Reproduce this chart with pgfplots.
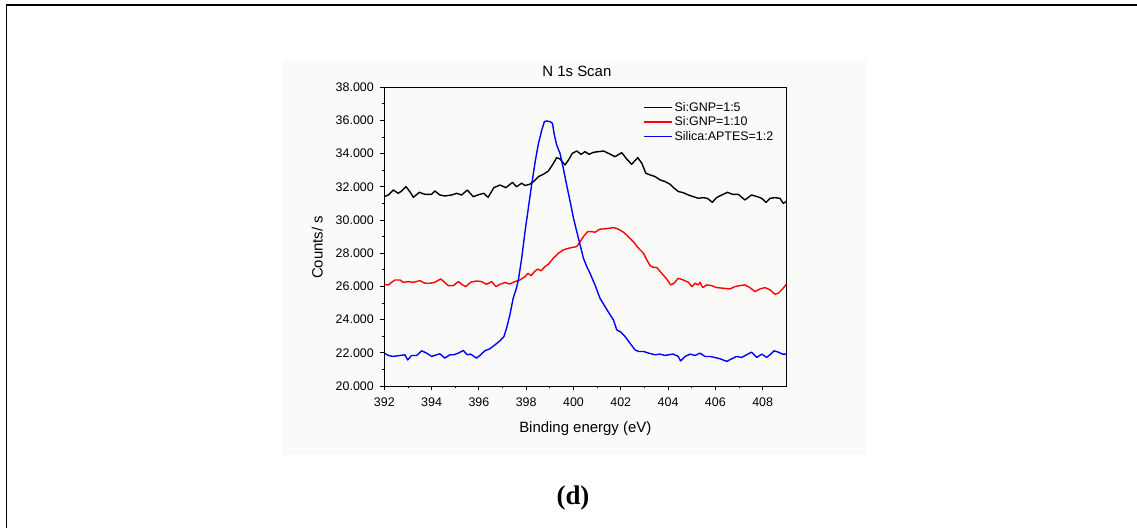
\documentclass[border=0pt]{standalone}
\usepackage{pgfplots}
\pgfplotsset{compat=1.18}
\usepackage{fontspec}
\setmainfont{Liberation Sans}
\newfontfamily\timesfont{Liberation Serif}
\definecolor{bgpanel}{RGB}{250,250,248}
\begin{document}
\begin{tikzpicture}[x=1bp,y=1bp]
\useasboundingbox (0,0) rectangle (1137,528);
\fill[bgpanel] (282,73) rectangle (866,468);
\draw[line width=1.8bp] (6.5,0) -- (6.5,523) -- (1137,523);
\begin{axis}[
  at={(384.3bp,142bp)}, anchor=south west,
  scale only axis, width=402bp, height=298.7bp,
  xmin=392, xmax=409, ymin=20000, ymax=38000,
  xtick={392,394,...,408}, minor x tick num=1,
  ytick={20000,22000,...,38000}, minor y tick num=1,
  yticklabels={20.000,22.000,24.000,26.000,28.000,30.000,32.000,34.000,36.000,38.000},
  xtick pos=left, ytick pos=left,
  tick align=outside, major tick length=4.5bp, minor tick length=2.5bp,
  tick style={black, line width=0.8bp},
  axis line style={line width=0.8bp},
  ticklabel style={font=\fontsize{12.5}{15}\selectfont},
  xticklabel style={yshift=-4bp},
  yticklabel style={xshift=-2.5bp},
  /pgf/number format/assume math mode=true,
  scaled y ticks=false,
  title={N 1s Scan},
  title style={font=\fontsize{15}{18}\selectfont, at={(axis description cs:0.479,1.0155)}, anchor=base},
  xlabel={Binding energy (eV)}, ylabel={Counts/ s},
  label style={font=\fontsize{15}{18}\selectfont},
  xlabel style={at={(axis description cs:0.5,-0.143)}, anchor=center},
  ylabel style={at={(axis description cs:-0.167,0.464)}, anchor=center},
  legend style={at={(axis description cs:0.636,0.964)}, anchor=north west, draw=none, fill=none,
    font=\fontsize{12.5}{15}\selectfont, row sep=0bp},
  legend cell align=left,
]
\addplot[black, line width=1.4bp, line join=round,
  legend image code/.code={\draw[black,line width=1.4bp] (0bp,0bp) -- (28bp,0bp);}] coordinates {
(392.0,31410) (392.17,31510) (392.38,31810) (392.59,31610) (392.73,31750) (392.92,32010)
(393.08,31710) (393.23,31370) (393.48,31670) (393.72,31550) (394.0,31550) (394.14,31750)
(394.35,31510) (394.56,31450) (394.85,31510) (395.06,31610) (395.27,31510) (395.51,31810)
(395.76,31410) (396.04,31550) (396.21,31610) (396.39,31370) (396.63,31950) (396.89,32110)
(397.14,31950) (397.42,32270) (397.59,32010) (397.81,32220) (397.95,32080) (398.16,32160)
(398.31,32320) (398.52,32620) (398.73,32760) (398.94,32960) (399.11,33320) (399.29,33760)
(399.43,33680) (399.64,33320) (399.79,33620) (399.95,34020) (400.14,34160) (400.32,33960)
(400.49,34120) (400.66,33960) (400.84,34080) (401.05,34120) (401.27,34160) (401.48,34020)
(401.76,33820) (402.04,34060) (402.25,33680) (402.46,33360) (402.72,33760) (402.89,33420)
(403.06,32820) (403.24,32720) (403.45,32620) (403.66,32420) (403.87,32320) (404.08,32160)
(404.22,31960) (404.43,31720) (404.64,31650) (404.86,31510) (405.07,31410) (405.28,31310)
(405.49,31350) (405.66,31310) (405.87,31070) (406.05,31350) (406.27,31510) (406.51,31670)
(406.73,31550) (406.97,31550) (407.25,31210) (407.53,31510) (407.77,31410) (407.96,31310)
(408.14,31070) (408.31,31310) (408.52,31350) (408.73,31310) (408.87,31010) (409.0,31110)
};
\addlegendentry{Si:GNP=1:5}
\addplot[red, line width=1.4bp, line join=round,
  legend image code/.code={\draw[red,line width=1.4bp] (0bp,0bp) -- (28bp,0bp);}] coordinates {
(392.0,26130) (392.17,26090) (392.31,26250) (392.45,26390) (392.66,26390) (392.8,26250)
(393.01,26290) (393.23,26250) (393.51,26350) (393.72,26190) (393.93,26190) (394.14,26250)
(394.38,26450) (394.52,26290) (394.7,26050) (394.92,26050) (395.13,26290) (395.31,26090)
(395.45,25990) (395.65,26250) (395.9,26330) (396.11,26290) (396.32,26130) (396.54,26290)
(396.72,25990) (396.89,26130) (397.1,26230) (397.31,26150) (397.52,26290) (397.74,26390)
(397.95,26590) (398.07,26790) (398.21,26650) (398.35,26900) (398.49,27040) (398.63,26940)
(398.8,27200) (398.94,27340) (399.15,27700) (399.36,28000) (399.57,28200) (399.79,28300)
(399.99,28360) (400.14,28400) (400.28,28700) (400.42,29000) (400.6,29300) (400.77,29300)
(400.91,29270) (401.12,29450) (401.33,29470) (401.55,29510) (401.69,29550) (401.9,29450)
(402.11,29270) (402.32,29000) (402.53,28700) (402.75,28300) (402.96,28000) (403.1,27600)
(403.24,27250) (403.38,27150) (403.52,27140) (403.73,26790) (403.94,26450) (404.11,26090)
(404.25,26190) (404.43,26490) (404.64,26390) (404.86,26250) (405.0,25990) (405.14,26190)
(405.28,26090) (405.35,26250) (405.46,25930) (405.63,26090) (405.84,26050) (406.05,25930)
(406.34,25890) (406.62,25850) (406.83,25990) (407.04,26050) (407.25,26090) (407.46,25930)
(407.68,25690) (407.89,25850) (408.1,25930) (408.31,25790) (408.52,25530) (408.66,25590)
(408.87,25890) (409.0,26130)
};
\addlegendentry{Si:GNP=1:10}
\addplot[blue, line width=1.4bp, line join=round,
  legend image code/.code={\draw[blue,line width=1.4bp] (0bp,0bp) -- (28bp,0bp);}] coordinates {
(392.0,21980) (392.17,21840) (392.38,21780) (392.66,21840) (392.87,21880) (392.99,21570)
(393.15,21840) (393.37,21840) (393.58,22120) (393.79,21980) (394.0,21780) (394.21,21880)
(394.35,21940) (394.56,21680) (394.77,21880) (394.94,21880) (395.13,21980) (395.34,22140)
(395.51,21880) (395.65,21920) (395.9,21680) (396.04,21840) (396.25,22120) (396.46,22240)
(396.68,22480) (396.89,22720) (397.06,22980) (397.17,23480) (397.31,24280) (397.45,25290)
(397.59,25900) (397.67,26400) (397.81,27700) (397.95,29300) (398.09,30710) (398.23,32120)
(398.38,33520) (398.52,34630) (398.66,35430) (398.77,35930) (398.87,35970) (399.01,35930)
(399.11,35830) (399.19,35130) (399.29,34520) (399.43,34020) (399.57,33120) (399.71,32120)
(399.86,31110) (400.0,30110) (400.14,29300) (400.28,28500) (400.42,27700) (400.56,27200)
(400.7,26790) (400.91,26090) (401.12,25290) (401.33,24790) (401.55,24290) (401.69,23980)
(401.83,23380) (402.01,23240) (402.18,22980) (402.39,22580) (402.6,22180) (402.75,22080)
(402.96,22080) (403.17,21980) (403.45,21880) (403.66,21920) (403.87,21840) (404.01,21880)
(404.22,21920) (404.43,21780) (404.53,21510) (404.72,21780) (404.93,21920) (405.14,21840)
(405.35,21980) (405.56,21780) (405.77,21780) (405.98,21720) (406.2,21640) (406.48,21480)
(406.69,21640) (406.9,21780) (407.11,21720) (407.32,21880) (407.53,22040) (407.75,21720)
(407.96,21920) (408.17,21720) (408.34,21920) (408.48,22120) (408.66,22040) (408.84,21920)
(409.0,21920)
};
\addlegendentry{Silica:APTES=1:2}
\end{axis}
\node[font=\timesfont\bfseries\fontsize{27}{30}\selectfont, anchor=base] at (573,23) {(d)};
\end{tikzpicture}
\end{document}
